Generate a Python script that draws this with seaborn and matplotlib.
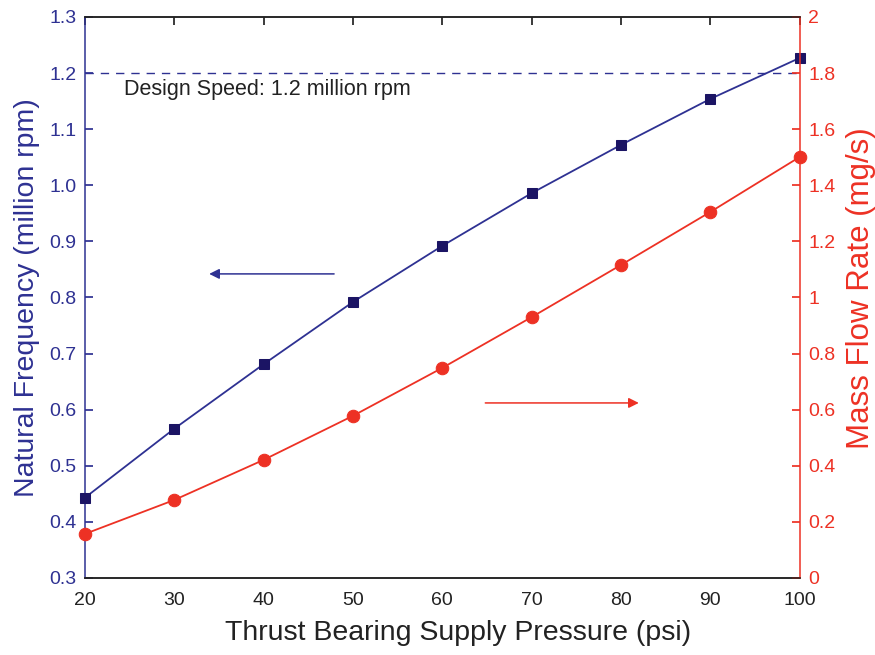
import matplotlib
matplotlib.use("Agg")
import matplotlib.pyplot as plt
import seaborn as sns
import pandas as pd

pressure = [20, 30, 40, 50, 60, 70, 80, 90, 100]
nat_freq = [0.443, 0.566, 0.681, 0.792, 0.892, 0.986, 1.072, 1.154, 1.227]
mass_flow = [0.157, 0.278, 0.421, 0.578, 0.749, 0.930, 1.116, 1.305, 1.501]
design_speed = 1.2

x_ticks = [20, 30, 40, 50, 60, 70, 80, 90, 100]
left_ticks = [0.3, 0.4, 0.5, 0.6, 0.7, 0.8, 0.9, 1.0, 1.1, 1.2, 1.3]
right_ticks = [0, 0.2, 0.4, 0.6, 0.8, 1, 1.2, 1.4, 1.6, 1.8, 2]
right_labels = ["0", "0.2", "0.4", "0.6", "0.8", "1", "1.2", "1.4", "1.6", "1.8", "2"]

sns.set_theme(style="white")
plt.rcParams['font.family'] = ['Liberation Sans', 'DejaVu Sans']

BLUE = "#2e3192"
NAVY = "#1b1464"
RED = "#ed3124"
DARK = "#222222"

df = pd.DataFrame({"p": pressure, "nf": nat_freq, "mf": mass_flow})

fig = plt.figure(figsize=(8.75, 6.55), dpi=100)
ax = fig.add_axes([0.097, 0.1176, 0.817, 0.8565])
ax2 = ax.twinx()

sns.lineplot(data=df, x="p", y="nf", ax=ax, color=BLUE, lw=1.3, marker="s",
             markersize=7, markerfacecolor=NAVY, markeredgecolor=NAVY, clip_on=False, zorder=5)
sns.lineplot(data=df, x="p", y="mf", ax=ax2, color=RED, lw=1.3, marker="o",
             markersize=9, markerfacecolor=RED, markeredgecolor=RED, clip_on=False, zorder=5)

ax.axhline(design_speed, color=BLUE, lw=1.0, ls=(0, (6, 5)))
ax.text(24.4, 1.17, "Design Speed: 1.2 million rpm", fontsize=15.5, color=DARK,
        va="center", ha="left")

ax.annotate("", xy=(33.6, 0.842), xytext=(48.2, 0.842),
            arrowprops=dict(arrowstyle="-|>", color=BLUE, lw=1.1, mutation_scale=15))
ax2.annotate("", xy=(82.3, 0.624), xytext=(64.5, 0.624),
             arrowprops=dict(arrowstyle="-|>", color=RED, lw=1.1, mutation_scale=15))

ax.set_xlim(20, 100)
ax.set_ylim(0.3, 1.3)
ax2.set_ylim(0, 2)
ax.set_xticks(x_ticks)
ax.set_xticklabels([str(v) for v in x_ticks])
ax.set_yticks(left_ticks)
ax.set_yticklabels([f"{v:.1f}" for v in left_ticks])
ax2.set_yticks(right_ticks)
ax2.set_yticklabels(right_labels)

ax.set_xlabel("Thrust Bearing Supply Pressure (psi)", fontsize=20.5, color=DARK, labelpad=8)
ax.set_ylabel("Natural Frequency (million rpm)", fontsize=20.5, color=BLUE, labelpad=7)
ax2.set_ylabel("Mass Flow Rate (mg/s)", fontsize=22.5, color=RED, labelpad=8)
ax.xaxis.label.set_x(0.522)
ax2.yaxis.label.set_y(0.517)

ax.tick_params(axis="x", direction="in", length=6, colors=DARK, labelsize=14, pad=10, top=True)
ax.tick_params(axis="y", direction="in", length=6, colors=BLUE, labelsize=14, pad=6, right=False)
ax2.tick_params(axis="y", direction="in", length=6, colors=RED, labelsize=14, pad=6)

for a in (ax, ax2):
    for s in a.spines.values():
        s.set_linewidth(1.1)
    a.spines["top"].set_color(DARK)
    a.spines["bottom"].set_color(DARK)
    a.spines["left"].set_color(BLUE)
    a.spines["right"].set_color(RED)
ax.spines["right"].set_visible(False)
ax2.spines["left"].set_visible(False)
ax.set_facecolor("white")
fig.patch.set_facecolor("white")

fig.savefig("out.png", dpi=100)
